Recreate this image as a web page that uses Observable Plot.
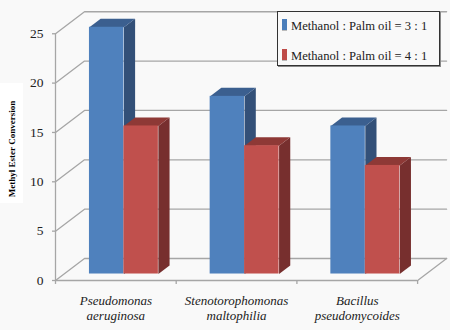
<!DOCTYPE html>
<html><head><meta charset="utf-8">
<script src="https://cdn.jsdelivr.net/npm/d3@7"></script>
<script src="https://cdn.jsdelivr.net/npm/@observablehq/plot@0.6"></script>
<style>
html,body{margin:0;padding:0;background:#f9f9f9;width:450px;height:330px;overflow:hidden}
#wrap{position:relative;width:450px;height:330px}
svg{display:block}
#legend{position:absolute;left:277px;top:11px;width:161px;height:53px;background:#f9f9f9;border:1px solid #333;box-shadow:1px 1px 0 #888;font:12.6px "Liberation Serif",serif;color:#222}
#legend div{position:absolute;left:4px;white-space:nowrap}
#legend i{display:inline-block;width:5px;height:12px;margin-right:4px;vertical-align:-1px;border-bottom:1px solid #bbb;padding:0;box-sizing:border-box}
#ylab{position:absolute;left:0;top:83px;width:23px;height:120px;background:#fff}
#ylab span{position:absolute;left:11.5px;top:66px;transform:translate(-50%,-50%) rotate(-90deg);white-space:nowrap;font:bold 9px "Liberation Serif",serif;color:#000}
</style></head><body><div id="wrap">
<div id="ylab"><span>Methyl Ester Conversion</span></div>
<div id="legend">
<div style="top:7px"><i style="background:#4a7ebb"></i>Methanol : Palm oil = 3 : 1</div>
<div style="top:37px"><i style="background:#be4b48"></i>Methanol : Palm oil = 4 : 1</div>
</div>
</div>
<script>
const categories = ["Pseudomonas aeruginosa", "Stenotorophomonas maltophilia", "Bacillus pseudomycoides"];
const labelLines = [["Pseudomonas","aeruginosa"],["Stenotorophomonas","maltophilia"],["Bacillus","pseudomycoides"]];
const ratio3 = [25, 18, 15];
const ratio4 = [15, 13, 11];
const yTicks = [0, 5, 10, 15, 20, 25];

// Oblique projection, in data units: depth 1 = the full back wall.
const wallX = 29 / 120.7, wallY = 22 / 9.87;
const px = (x, d) => x + d * wallX;
const py = (y, d) => y + d * wallY;
const barStart = 0.2104, barW = 0.2855, d0 = 0.295, d1 = 0.681;

const series = [
  {name: "3:1", vals: ratio3, off: 0, front: "#4f81bd", side: "#335078", top: "#3b5f8f"},
  {name: "4:1", vals: ratio4, off: 1, front: "#c0504d", side: "#772f2e", top: "#8e3936"}
];
const fronts = [], faces = [];
let id = 0;
for (const s of series) s.vals.forEach((v, i) => {
  const a = i + barStart + s.off * barW, b = a + barW;
  fronts.push({x1: px(a, d0), x2: px(b, d0), y1: py(0, d0), y2: py(v, d0), fill: s.front});
  const poly = (pts, fill) => { id++; pts.forEach(([x, y, d]) => faces.push({x: px(x, d), y: py(y, d), id, fill})); };
  poly([[b, 0, d0], [b, 0, d1], [b, v, d1], [b, v, d0]], s.side);
  poly([[a, v, d0], [a, v, d1], [b, v, d1], [b, v, d0]], s.top);
});
const n = categories.length;
const grid = [];
yTicks.forEach(t => {
  grid.push({id: t, x: 0, y: t}, {id: t, x: px(0, 1), y: py(t, 1)}, {id: t, x: px(n, 1), y: py(t, 1)});
});
const floorEdge = [{x: n, y: 0}, {x: px(n, 1), y: py(0, 1)}];
const line1 = labelLines.map((ls, i) => ({x: i + 0.5, t: ls[0]}));
const line2 = labelLines.map((ls, i) => ({x: i + 0.5, t: ls[1]}));
const labelStyle = {x: "x", y: 0, text: "t", fontSize: 13, fontStyle: "italic", fontFamily: "Liberation Serif", fill: "#222", textAnchor: "middle"};
const axisStroke = {stroke: "#a6a6a6", strokeWidth: 1.3};

const plot = Plot.plot({
  width: 450, height: 330,
  marginLeft: 55, marginRight: 4, marginTop: 11, marginBottom: 50,
  style: {background: "transparent", overflow: "visible"},
  x: {type: "linear", domain: [0, (450 - 4 - 55) / 120.7], axis: null},
  y: {type: "linear", domain: [0, (280 - 11) / 9.87], axis: null},
  marks: [
    Plot.line(grid, {x: "x", y: "y", z: "id", ...axisStroke}),
    Plot.line(floorEdge, {x: "x", y: "y", ...axisStroke}),
    Plot.ruleX([0], {y1: 0, y2: 25, ...axisStroke}),
    Plot.ruleY([0], {x1: 0, x2: n, ...axisStroke}),
    Plot.ruleX(d3.range(n + 1), {y1: -0.4, y2: 0, ...axisStroke}),
    Plot.ruleY(yTicks, {x1: -0.025, x2: 0, ...axisStroke}),
    Plot.line(faces, {x: "x", y: "y", z: "id", fill: "fill", stroke: null}),
    Plot.rect(fronts, {x1: "x1", x2: "x2", y1: "y1", y2: "y2", fill: "fill"}),
    Plot.text(yTicks, {x: 0, y: d => d, text: d => String(d), textAnchor: "end", dx: -12, fontSize: 13.5, fontFamily: "Liberation Serif", fill: "#222"}),
    Plot.text(line1, {...labelStyle, dy: 20}),
    Plot.text(line2, {...labelStyle, dy: 35})
  ]
});
document.getElementById("wrap").prepend(plot);
</script></body></html>
